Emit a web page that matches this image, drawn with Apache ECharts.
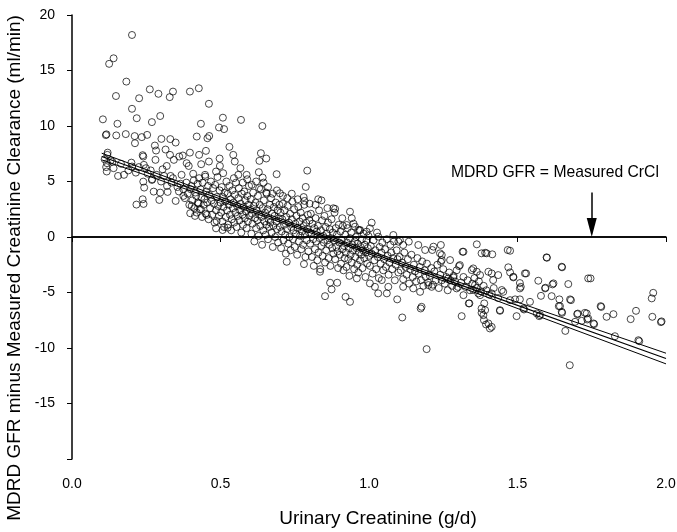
<!DOCTYPE html>
<html>
<head>
<meta charset="utf-8">
<script src="https://cdn.jsdelivr.net/npm/echarts@6/dist/echarts.min.js"></script>
<style>
html,body{margin:0;padding:0;background:#fff;}
#chart{width:677px;height:532px;}
</style>
</head>
<body>
<div id="chart"></div>
<script>
// ---------- DATA ----------
const xTicks = [0.0, 0.5, 1.0, 1.5, 2.0];
const yTicks = [-20, -15, -10, -5, 0, 5, 10, 15, 20];
const xAxisName = 'Urinary Creatinine (g/d)';
const yAxisName = 'MDRD GFR minus Measured Creatinine Clearance (ml/min)';
const noteText = 'MDRD GFR = Measured CrCl';
const notePos = [1.626, 5.75];
const arrowFrom = [1.75, 4.0];
const arrowTo = [1.75, 0.86];

// regression line and its confidence band
const fitX = [0.1, 0.5, 0.85, 1.3, 2.0];
const fitY = [7.25, 3.42, 0.07, -4.24, -10.95];
const upperY = [7.55, 3.61, 0.21, -4.04, -10.47];
const lowerY = [6.95, 3.23, -0.07, -4.44, -11.43];

// sparse points, left / upper part
const pointsLeft = [
[0.202,18.2],[0.125,15.6],[0.140,16.1],[0.148,12.7],[0.183,14.0],[0.262,13.3],[0.291,12.9],[0.329,12.6],[0.340,13.1],[0.397,13.1],
[0.427,13.4],[0.226,12.5],[0.202,11.55],[0.461,12.0],[0.104,10.6],[0.153,10.2],[0.218,10.7],[0.269,10.35],[0.297,10.9],[0.434,10.2],
[0.508,10.75],[0.569,10.55],[0.641,10.0],[0.495,9.87],[0.512,9.72],[0.114,9.18],[0.116,9.25],[0.149,9.15],[0.181,9.27],[0.211,9.09],
[0.235,9.0],[0.253,9.2],[0.212,8.45],[0.301,8.84],[0.331,8.82],[0.349,8.51],[0.420,9.05],[0.456,8.9],[0.462,9.1],[0.279,8.24],
[0.283,7.79],[0.315,7.88],[0.330,7.4],[0.361,7.25],[0.373,7.34],[0.397,7.6],[0.428,7.4],[0.451,7.76],[0.497,7.07],[0.530,8.12],
[0.543,7.4],[0.548,6.8],[0.636,7.55],[0.654,7.07],[0.631,6.86],[0.238,7.37],[0.240,7.25],[0.119,7.4],[0.118,6.65],[0.136,6.77],
[0.117,5.9],[0.155,5.5],[0.175,5.6],[0.202,6.35],[0.242,6.5],[0.249,6.2],[0.281,6.95],[0.305,6.1],[0.319,6.4],[0.332,5.5],
[0.343,6.95],[0.369,5.6],[0.386,6.65],[0.393,6.4],[0.408,5.7],[0.435,6.56],[0.449,5.44],[0.461,6.8],[0.485,5.9],[0.498,6.4],
[0.509,5.75],[0.567,6.2],[0.588,5.6],[0.629,5.84],[0.642,5.35],[0.689,5.66],[0.792,5.98],[0.787,4.51],[0.700,3.94],[0.654,4.0],
[0.829,3.4],[0.783,3.25],[0.240,4.99],[0.243,4.45],[0.269,5.14],[0.275,4.09],[0.297,4.0],[0.294,3.34],[0.322,4.06],[0.349,3.25],
[0.375,3.7],[0.217,2.92],[0.241,2.98],[0.238,3.4],[0.403,2.8],[0.424,3.1],[0.434,2.5],[0.398,2.14],[0.414,1.9],[0.454,1.99],
[0.487,1.44],[0.485,0.78],[0.507,0.63],[0.524,0.84],
[0.11,7.0],[0.115,6.3],[0.12,7.6],[0.13,6.9],[0.14,6.2],[0.165,6.6],[0.19,6.0],[0.2,6.7],[0.215,5.8],[0.225,6.3],
[0.255,5.7],[0.265,6.0],[0.27,5.2],[0.285,5.6],[0.3,5.0],[0.31,5.5],[0.32,4.6],[0.335,4.9],[0.34,5.3],[0.355,4.5],
[0.36,4.1],[0.365,4.8],[0.375,4.3],[0.38,3.5],[0.385,4.9],[0.39,3.9],[0.395,2.9],[0.4,4.3],
[0.545,5.3],[0.56,5.6],[0.575,4.9],[0.59,5.2],[0.605,4.7],[0.62,5.0],[0.63,4.4],[0.645,4.9],[0.66,4.5],[0.675,3.9],
[0.69,4.2],[0.71,3.7],[0.725,3.5],[0.74,3.9],[0.76,3.4],[0.78,3.6],[0.8,3.0],[0.82,2.9],[0.84,3.3],[0.86,2.6],[0.88,2.59]
];

// dense central band
const pointsCore = [
[0.402,4.6],[0.405,3.3],[0.41,5.1],[0.412,2.6],[0.415,4.0],[0.418,3.7],[0.42,2.2],[0.423,4.8],[0.426,3.0],[0.428,5.3],
[0.43,2.5],[0.433,4.3],[0.436,3.6],[0.438,1.8],[0.44,4.9],[0.443,2.9],[0.446,3.4],[0.448,5.6],[0.45,2.1],[0.452,4.1],
[0.455,3.1],[0.458,4.6],[0.46,1.6],[0.462,3.8],[0.465,2.6],[0.468,5.0],[0.47,3.3],[0.472,2.0],[0.475,4.4],[0.478,3.0],
[0.48,1.3],[0.482,4.7],[0.485,2.4],[0.488,3.6],[0.49,5.4],[0.492,2.8],[0.495,1.9],[0.497,4.2],[0.5,3.1],
[0.502,2.2],[0.504,4.5],[0.506,1.4],[0.508,3.6],[0.51,2.7],[0.512,0.9],[0.514,4.0],[0.516,3.2],[0.518,1.8],[0.52,5.0],
[0.522,2.4],[0.524,3.9],[0.526,1.1],[0.528,2.9],[0.53,4.6],[0.532,2.0],[0.534,3.4],[0.536,0.6],[0.538,1.6],[0.54,4.2],
[0.542,2.6],[0.544,3.1],[0.546,1.3],[0.548,3.8],[0.55,2.2],[0.552,4.9],[0.554,0.9],[0.556,2.8],[0.558,1.9],[0.56,3.5],
[0.562,4.4],[0.564,1.5],[0.566,2.4],[0.568,3.0],[0.57,0.4],[0.572,3.9],[0.574,2.0],[0.576,1.1],[0.578,2.7],[0.58,4.1],
[0.582,1.7],[0.584,3.3],[0.586,2.3],[0.588,0.8],[0.59,3.7],[0.592,1.4],[0.594,2.9],[0.596,4.6],[0.598,1.9],[0.6,2.5],
[0.602,3.4],[0.604,0.3],[0.606,2.1],[0.608,1.2],[0.61,4.0],[0.612,2.8],[0.614,-0.4],[0.616,1.7],[0.618,3.1],[0.62,0.8],
[0.622,2.4],[0.624,1.5],[0.626,3.7],[0.628,0.1],[0.63,2.0],[0.632,2.9],[0.634,1.0],[0.636,4.3],[0.638,1.8],[0.64,-0.7],
[0.642,2.6],[0.644,0.6],[0.646,3.3],[0.648,1.4],[0.65,2.2],[0.652,0.2],[0.654,1.1],[0.656,3.9],[0.658,2.5],[0.66,-0.2],
[0.662,1.6],[0.664,0.9],[0.666,2.9],[0.668,1.3],[0.67,3.5],[0.672,0.4],[0.674,2.1],[0.676,-0.9],[0.678,1.0],[0.68,2.7],
[0.682,1.9],[0.684,0.0],[0.686,3.1],[0.688,1.4],[0.69,0.7],[0.692,2.4],[0.694,-0.5],[0.696,1.7],[0.698,2.9],[0.7,0.9],
[0.702,2.2],[0.704,-1.0],[0.706,0.5],[0.708,1.6],[0.71,3.0],[0.712,-0.3],[0.714,1.1],[0.716,2.4],[0.718,0.2],[0.72,-1.5],
[0.722,1.8],[0.724,0.7],[0.726,2.8],[0.728,-0.6],[0.73,1.3],[0.732,0.0],[0.734,2.1],[0.736,-1.2],[0.738,0.9],[0.74,1.6],
[0.742,3.2],[0.744,-0.2],[0.746,0.6],[0.748,2.5],[0.75,-0.9],[0.752,1.2],[0.754,0.3],[0.756,1.9],[0.758,-1.6],[0.76,0.8],
[0.762,2.7],[0.764,-0.4],[0.766,1.4],[0.768,0.1],[0.77,2.2],[0.772,-1.1],[0.774,0.5],[0.776,1.7],[0.778,-0.7],[0.78,1.0],
[0.782,2.9],[0.784,0.2],[0.786,-1.8],[0.788,1.3],[0.79,-0.3],[0.792,0.7],[0.794,2.0],[0.796,-1.3],[0.798,0.4],[0.8,1.5],
[0.802,-0.6],[0.804,2.1],[0.806,0.3],[0.808,-1.8],[0.81,1.2],[0.812,-0.2],[0.814,-2.6],[0.816,0.8],[0.818,-1.1],[0.82,1.7],
[0.822,-0.4],[0.824,0.5],[0.826,-2.1],[0.828,1.0],[0.83,-1.4],[0.832,2.4],[0.834,-0.1],[0.836,-2.9],[0.838,0.6],[0.84,-0.8],
[0.842,1.5],[0.844,-1.7],[0.846,0.1],[0.848,-0.5],[0.85,1.9],[0.852,-2.3],[0.854,0.9],[0.856,-1.2],[0.858,0.3],[0.86,-0.3],
[0.862,1.3],[0.864,-1.9],[0.866,-0.7],[0.868,0.7],[0.87,-2.6],[0.872,-0.1],[0.874,1.6],[0.876,-1.0],[0.878,0.4],[0.88,-1.5],
[0.882,-0.3],[0.884,2.2],[0.886,-2.0],[0.888,0.8],[0.89,-0.9],[0.892,0.2],[0.894,-1.3],[0.896,-2.8],[0.898,1.1],[0.9,-0.5],
[0.902,-1.6],[0.904,0.5],[0.906,-2.4],[0.908,-0.3],[0.91,-1.1],[0.912,1.0],[0.914,-3.0],[0.916,-0.8],[0.918,-1.9],[0.92,0.2],
[0.922,-1.4],[0.924,-2.7],[0.926,-0.5],[0.928,0.8],[0.93,-2.0],[0.932,-1.0],[0.934,-3.5],[0.936,-0.1],[0.938,-1.6],[0.94,0.4],
[0.942,-2.3],[0.944,-0.7],[0.946,-1.2],[0.948,1.2],[0.95,-2.9],[0.952,-0.4],[0.954,-1.8],[0.956,0.0],[0.958,-1.0],[0.96,-2.5],
[0.962,-0.6],[0.964,-3.2],[0.966,-1.4],[0.968,0.6],[0.97,-2.1],[0.972,-0.9],[0.974,-1.6],[0.976,-0.2],[0.978,-2.8],[0.98,-1.2],
[0.982,0.3],[0.984,-1.9],[0.986,-0.7],[0.988,-3.6],[0.99,-1.4],[0.992,-0.3],[0.994,-2.4],[0.996,-1.0],[0.998,0.1],[1.0,-1.7],
[1.003,-2.6],[1.006,-0.8],[1.009,-1.5],[1.012,-3.3],[1.015,-0.3],[1.018,-2.1],[1.021,-1.2],[1.024,-2.9],[1.027,0.4],[1.03,-1.8],
[1.033,-3.7],[1.036,-0.9],[1.039,-2.4],[1.042,-1.4],[1.045,-0.5],[1.048,-3.0],[1.051,-2.0],[1.054,-1.1],[1.057,-2.7],[1.06,-0.2],
[1.063,-1.7],[1.066,-3.4],[1.069,-2.3],[1.072,-0.7],[1.075,-1.4],[1.078,-2.9],[1.081,-1.9],[1.084,-0.4],[1.087,-3.9],[1.09,-2.5],
[1.093,-1.2],[1.096,-2.0],[1.099,-3.2],
[1.103,-1.8],[1.107,-3.0],[1.111,-2.3],[1.115,-3.8],[1.119,-1.4],[1.123,-2.7],[1.127,-3.4],[1.131,-2.0],[1.135,-4.2],[1.139,-2.9],
[1.143,-1.6],[1.147,-3.6],[1.151,-2.5],[1.155,-3.1],[1.159,-4.0],[1.163,-1.9],[1.167,-3.3],[1.171,-2.7],[1.175,-3.9],[1.179,-2.2],
[1.183,-4.4],[1.187,-3.0],[1.191,-3.6],[1.195,-2.4],[1.199,-4.1],
[1.205,-3.5],[1.21,-2.8],[1.215,-4.3],[1.22,-3.1],[1.225,-3.9],[1.23,-2.5],[1.235,-4.6],[1.24,-3.4],[1.245,-3.9],[1.25,-2.9],
[1.255,-4.2],[1.26,-3.6],[1.265,-4.8],[1.27,-3.2],[1.275,-3.9],[1.28,-4.4],[1.285,-3.5],[1.29,-4.0],[1.295,-3.0],[1.3,-4.5],
[1.31,-4.1],[1.318,-3.6],[1.325,-4.5],[1.332,-3.9],[1.34,-4.8],[1.348,-4.2],[1.355,-3.7],[1.362,-4.6],[1.37,-4.0],[1.378,-4.9],
[1.386,-4.4],[1.395,-4.8],[1.405,-5.2],[1.42,-4.6],[1.435,-5.5]
];

// sparse points, right / lower part
const pointsRight = [
[0.886,2.53],[0.910,1.69],[0.936,2.28],[0.942,1.69],[0.925,1.08],[0.953,0.93],[0.970,0.63],[1.009,1.29],[1.003,0.78],[1.031,0.03],
[1.082,0.18],[1.099,-0.42],[1.104,-0.27],[1.115,-0.72],[1.134,-0.42],[1.166,-0.72],[1.189,-1.17],[1.213,-1.17],[1.242,-0.72],[1.239,-1.47],
[1.273,-2.08],[1.315,-1.33],[1.363,-0.66],[1.379,-1.47],[1.396,-1.47],[1.415,-1.56],[1.467,-1.17],[1.599,-1.87],[1.242,-2.23],[1.303,-2.62],
[1.351,-2.83],[1.413,-3.28],[1.469,-2.73],[1.475,-3.19],[1.486,-3.64],[1.529,-3.28],[1.508,-4.15],[1.511,-4.49],[1.570,-3.94],[1.618,-4.27],
[1.594,-4.57],[1.650,-2.73],[1.671,-4.24],[1.746,-3.73],[1.579,-5.3],[1.615,-5.33],[1.641,-5.62],[1.639,-6.23],[1.677,-5.62],[1.650,-6.83],
[1.701,-6.95],[1.703,-6.9],[1.727,-6.83],[1.735,-7.43],[1.758,-7.85],[1.694,-7.64],[1.661,-8.46],[1.676,-11.55],[1.780,-6.23],[1.782,-6.3],
[1.800,-7.19],[1.823,-6.95],[1.828,-8.94],[1.881,-7.4],[1.899,-6.65],[1.910,-9.39],[1.952,-5.53],[1.957,-5.03],[1.954,-7.19],[1.983,-7.67],
[1.985,-7.6],[1.522,-6.53],[1.565,-6.89],[1.576,-7.04],[1.497,-7.13],[1.441,-6.65],[1.388,-5.98],[1.379,-6.83],[1.387,-7.49],[1.394,-7.88],
[1.407,-8.24],[1.336,-5.98],[1.312,-7.13],[1.194,-10.1],[1.174,-6.44],[1.112,-7.25],[1.095,-5.62],[0.921,-5.39],[0.936,-5.84],[0.723,-2.23],
[0.781,-2.44],[0.835,-3.13],[0.869,-4.12],[0.874,-4.72],[0.852,-5.33],[0.893,-4.12],[1.149,-4.63],[1.172,-4.94],[1.2,-4.33],[1.211,-4.49],
[1.177,-6.29],[1.115,-4.49],[1.06,-5.08],[1.065,-4.49],[1.031,-5.08],[1.003,-4.18],[1.02,-4.49],[1.043,-3.88],[0.959,-3.73],[0.992,0.48],
[0.964,0.63],[1.217,-0.87],[1.245,-1.62],[1.245,-2.08],[1.318,-1.33],[1.306,-2.53],[1.391,-1.42],[1.435,-3.43],[1.447,-4.78],[1.452,-4.94],
[1.346,-2.98],[1.363,-3.13],[1.374,-3.43],[1.402,-3.13],[1.418,-3.88],[1.267,-3.73],[1.284,-3.64],[1.295,-4.63],[1.318,-5.24],[1.338,-5.98],
[1.351,-4.78],[1.357,-4.33],[1.368,-5.08],[1.374,-5.24],[1.379,-6.44],[1.391,-6.59],[1.385,-7.04],[1.402,-7.79],[1.413,-8.1],[1.441,-6.59],
[1.413,-5.08],[1.598,-1.83],[1.649,-2.68],[1.475,-1.24],[1.486,-3.58],[1.525,-3.28],[1.508,-4.63],[1.593,-4.63],[1.621,-4.18],[1.738,-3.73],
[1.68,-5.69],[1.643,-6.23],[1.649,-6.74],[1.716,-7.55],[1.738,-7.34],[1.52,-6.44],[1.573,-7.13],[1.475,-5.69],[1.492,-5.62],[1.508,-5.62],
[1.542,-5.84],[1.733,-6.89],[1.756,-7.79],[1.907,-9.3]
];

// ---------- CHART ----------
const FONT = '"Liberation Sans", Arial, sans-serif';
const chart = echarts.init(document.getElementById('chart'), null, {renderer: 'canvas'});
const allPoints = pointsLeft.concat(pointsCore, pointsRight);
const zip = (xs, ys) => xs.map((x, i) => [x, ys[i]]);
const lineStyleBase = {color: '#000', width: 1};

chart.setOption({
  animation: false,
  backgroundColor: '#fff',
  textStyle: {fontFamily: FONT, color: '#000'},
  grid: {left: 72, right: 11, top: 15, bottom: 73, containLabel: false, outerBoundsMode: 'none'},
  xAxis: {
    type: 'value', min: xTicks[0], max: xTicks[xTicks.length - 1], interval: 0.5,
    name: xAxisName, nameLocation: 'middle', nameGap: 50,
    nameTextStyle: {fontFamily: FONT, fontSize: 19, color: '#000', padding: [0, 0, 0, 18]},
    axisLine: {lineStyle: {color: '#000', width: 1.5}},
    axisTick: {show: true, inside: false, length: 5, lineStyle: {color: '#000', width: 1}},
    axisLabel: {fontFamily: FONT, fontSize: 14, color: '#000', margin: 18,
      formatter: v => v.toFixed(1)},
    splitLine: {show: false}
  },
  yAxis: {
    type: 'value', min: yTicks[0], max: yTicks[yTicks.length - 1], interval: 5,
    name: yAxisName, nameLocation: 'middle', nameGap: 44,
    nameTextStyle: {fontFamily: FONT, fontSize: 19, color: '#000', padding: [0, 62, 0, 0]},
    axisLine: {lineStyle: {color: '#000', width: 1.5}},
    axisTick: {show: true, inside: false, length: 5, lineStyle: {color: '#000', width: 1}},
    axisLabel: {fontFamily: FONT, fontSize: 14, color: '#000', margin: 17,
      formatter: v => (v === yTicks[0] ? '' : String(v))},
    splitLine: {show: false}
  },
  series: [
    {
      type: 'scatter', name: 'points', data: allPoints,
      symbol: 'circle', symbolSize: 7,
      itemStyle: {color: 'rgba(0,0,0,0)', borderColor: '#000', borderWidth: 0.9},
      z: 3
    },
    {type: 'line', name: 'fit', data: zip(fitX, fitY), symbol: 'none', lineStyle: {color: '#000', width: 1.2}, z: 4},
    {type: 'line', name: 'upper', data: zip(fitX, upperY), symbol: 'none', lineStyle: lineStyleBase, z: 4},
    {type: 'line', name: 'lower', data: zip(fitX, lowerY), symbol: 'none', lineStyle: lineStyleBase, z: 4},
    {
      type: 'line', name: 'annot', data: [], z: 5,
      markLine: {
        silent: true, symbol: ['none', 'none'], label: {show: false},
        lineStyle: {color: '#000', width: 1.5, type: 'solid'},
        data: [{yAxis: 0}]
      },
      markPoint: {
        silent: true, symbolSize: 0,
        label: {show: true, position: 'inside', formatter: noteText,
          fontFamily: FONT, fontSize: 15.7, color: '#000'},
        data: [{coord: notePos}]
      }
    },
    {
      type: 'line', name: 'arrow', data: [], z: 6,
      markLine: {
        silent: true, symbol: ['none', 'triangle'], symbolSize: [10, 19], label: {show: false},
        lineStyle: {color: '#000', width: 1.5, type: 'solid'},
        data: [[{coord: arrowFrom}, {coord: arrowTo}]]
      }
    }
  ]
});
</script>
</body>
</html>
